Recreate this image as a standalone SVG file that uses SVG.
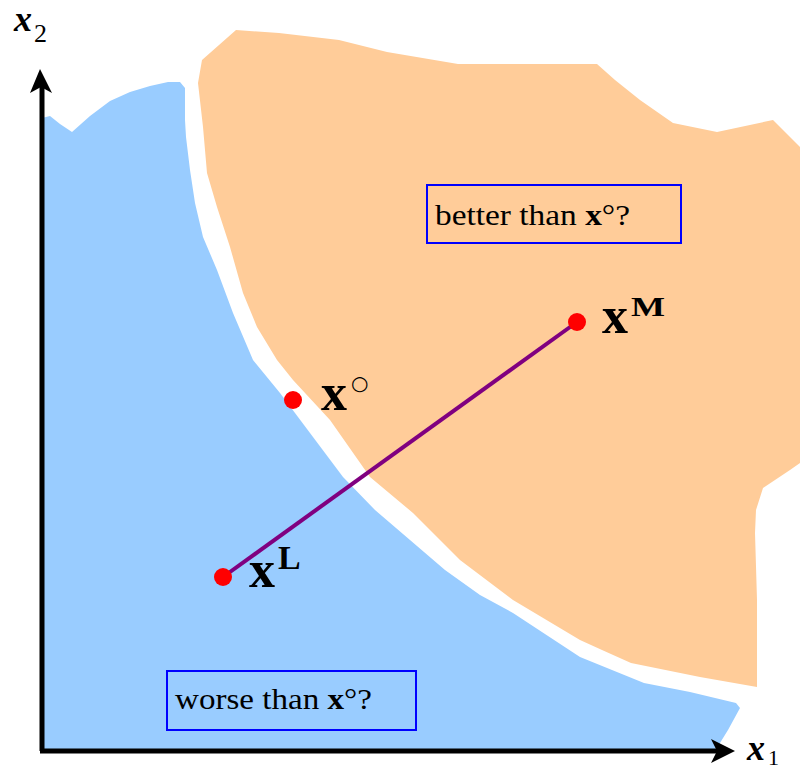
<svg xmlns="http://www.w3.org/2000/svg" width="803" height="771" viewBox="0 0 803 771">
<style>
.serif{font-family:"Liberation Serif","Times New Roman",serif;fill:#000}
.box{fill:none;stroke:#0000ff;stroke-width:2}
.dot{fill:#ff0000}
.axis{stroke:#000;stroke-width:5;fill:none}
</style>
<rect width="803" height="771" fill="#fff"/>
<g id="region-worse">
<path fill="#99ccff" d="M42,118 L50,116 L60,124 L72,132 L90,116 L110,101 L130,92 L150,86 L168,82 L180,82 L185,88 L185,120 L186,137 L190,170 L195,203 L203,237 L217,270 L233,313 L253,360 L280,393 L310,433 L343,477 L375,510 L410,540 L445,570 L480,595 L513,613 L580,657 L644,683 L690,692 L736,703 L740,708 L728,730 L715,751 L42,751 Z"/>
</g>
<g id="region-better">
<path fill="#ffcc99" d="M236,30 L279,33 L339,40 L387,52 L458,64 L597,64 L615,80 L640,100 L673,123 L717,132 L773,120 L800,147 L800,463 L790,470 L763,488 L756,510 L755,533 L757,600 L757,687 L700,677 L631,663 L602,650 L580,640 L513,600 L460,560 L413,513 L370,477 L330,420 L293,380 L277,360 L257,327 L243,293 L230,247 L217,207 L207,173 L203,127 L198,83 L202,60 Z"/>
</g>
<g id="axes">
<line class="axis" x1="42" y1="751" x2="42" y2="80"/>
<path d="M40,69 L52,93 L41,87 L30,93 Z" fill="#000"/>
<line class="axis" x1="40" y1="751" x2="725" y2="751"/>
<path d="M735,751 L711,763 L717,751 L711,739 Z" fill="#000"/>
<text class="serif" x="14" y="31" font-size="36" font-style="italic" font-weight="bold">x</text>
<text class="serif" x="34" y="42" font-size="26">2</text>
<text class="serif" x="747" y="760" font-size="36" font-style="italic" font-weight="bold">x</text>
<text class="serif" x="768" y="765" font-size="22">1</text>
</g>
<g id="connectors">
<line x1="223" y1="577" x2="577" y2="322" stroke="#800080" stroke-width="4"/>
</g>
<g id="box-better">
<rect class="box" x="427" y="185" width="254" height="58"/>
<text class="serif" x="435" y="225" font-size="29" textLength="195" lengthAdjust="spacingAndGlyphs">better than <tspan font-weight="bold">x</tspan>°?</text>
</g>
<g id="box-worse">
<rect class="box" x="167" y="671" width="249" height="59"/>
<text class="serif" x="175" y="709" font-size="29" textLength="197" lengthAdjust="spacingAndGlyphs">worse than <tspan font-weight="bold">x</tspan>°?</text>
</g>
<g id="point-xo">
<circle class="dot" cx="293" cy="400" r="9"/>
<text class="serif" x="321" y="410" font-size="52" font-weight="bold">x</text>
<text x="351" y="390" font-size="20" font-family="DejaVu Sans, sans-serif" fill="#000">○</text>
</g>
<g id="point-xm">
<circle class="dot" cx="577" cy="322" r="9"/>
<text class="serif" x="602" y="333" font-size="52" font-weight="bold">x</text>
<text class="serif" x="631" y="316" font-size="27" font-weight="bold" textLength="34" lengthAdjust="spacingAndGlyphs">M</text>
</g>
<g id="point-xl">
<circle class="dot" cx="223" cy="577" r="9"/>
<text class="serif" x="249" y="587" font-size="52" font-weight="bold">x</text>
<text class="serif" x="278" y="569" font-size="34" font-weight="bold">L</text>
</g>
</svg>
